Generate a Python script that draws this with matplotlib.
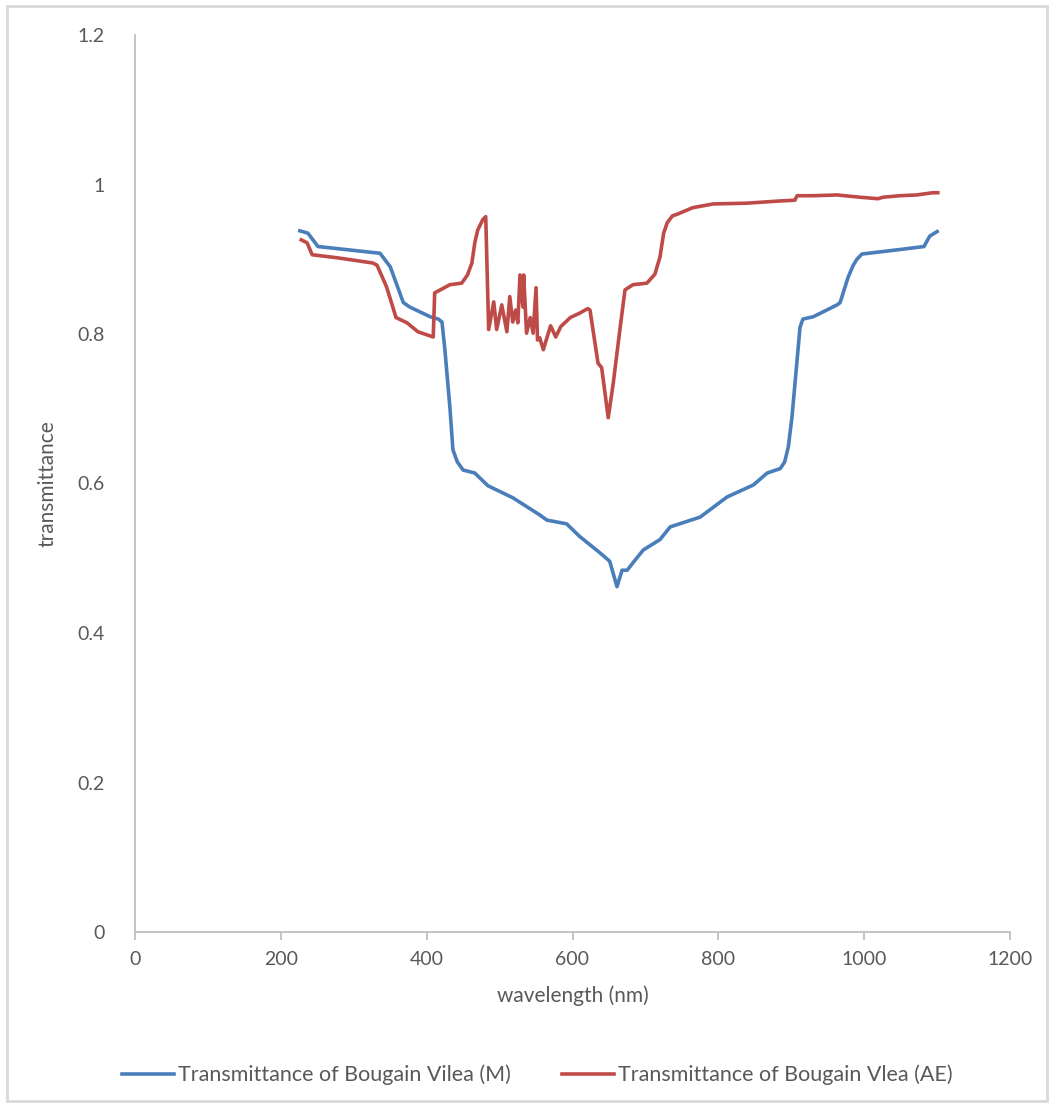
import matplotlib.pyplot as plt
from matplotlib.patches import Rectangle

plt.rcParams['font.family'] = ['Lato', 'DejaVu Sans']

# Transmittance of Bougain Vilea (M)
wl_m = [226, 237, 251, 336, 350, 368, 377, 405, 416, 421, 425, 432, 436, 442,
        450, 466, 484, 518, 555, 565, 592, 610, 638, 651, 661, 668, 675, 683,
        697, 720, 734, 775, 812, 848, 867, 885, 891, 896, 901, 908, 912, 916,
        930, 963, 967, 978, 985, 990, 997, 1049, 1082, 1090, 1100]
tr_m = [0.938, 0.935, 0.917, 0.908, 0.890, 0.842, 0.836, 0.823, 0.820, 0.816,
        0.779, 0.700, 0.645, 0.629, 0.618, 0.614, 0.597, 0.581, 0.558, 0.551,
        0.546, 0.529, 0.507, 0.496, 0.462, 0.484, 0.484, 0.494, 0.511, 0.525,
        0.542, 0.555, 0.582, 0.598, 0.614, 0.620, 0.629, 0.649, 0.689, 0.765,
        0.809, 0.820, 0.823, 0.839, 0.842, 0.876, 0.892, 0.900, 0.907, 0.913,
        0.917, 0.931, 0.937]

# Transmittance of Bougain Vlea (AE)
wl_ae = [228, 236, 243, 277, 326, 332, 345, 358, 373, 388, 409, 411, 432, 448,
         456, 462, 466, 470, 477, 481, 485, 492, 496, 503, 510, 514, 518, 522,
         525, 528, 532, 533, 537, 542, 546, 550, 552, 555, 560, 564, 570, 577,
         584, 597, 610, 621, 624, 635, 640, 649, 656, 665, 672, 683, 702, 713,
         716, 720, 725, 730, 737, 743, 765, 793, 839, 885, 905, 908, 930, 963,
         994, 1019, 1026, 1049, 1072, 1094, 1101]
tr_ae = [0.926, 0.922, 0.906, 0.902, 0.895, 0.892, 0.863, 0.822, 0.815, 0.803,
         0.796, 0.855, 0.866, 0.868, 0.879, 0.895, 0.922, 0.939, 0.953, 0.957,
         0.806, 0.843, 0.806, 0.839, 0.803, 0.850, 0.816, 0.832, 0.815, 0.879,
         0.836, 0.879, 0.801, 0.822, 0.801, 0.862, 0.792, 0.795, 0.779, 0.792,
         0.811, 0.796, 0.810, 0.822, 0.828, 0.834, 0.832, 0.761, 0.755, 0.688,
         0.735, 0.806, 0.859, 0.866, 0.868, 0.880, 0.890, 0.903, 0.935, 0.949,
         0.958, 0.960, 0.969, 0.974, 0.975, 0.978, 0.979, 0.985, 0.985, 0.986,
         0.983, 0.981, 0.983, 0.985, 0.986, 0.989, 0.989]

xticks = [0, 200, 400, 600, 800, 1000, 1200]
yticks = [0, 0.2, 0.4, 0.6, 0.8, 1, 1.2]
ytick_labels = ["0", "0.2", "0.4", "0.6", "0.8", "1", "1.2"]

fig = plt.figure(figsize=(10.54, 11.07), dpi=100)
ax = fig.add_axes([135 / 1054, 1 - 932 / 1107, 875 / 1054, 897 / 1107])

ax.plot(wl_m, tr_m, color="#4a7ebb", lw=2.6, label="Transmittance of Bougain Vilea (M)")
ax.plot(wl_ae, tr_ae, color="#be4b48", lw=2.6, label="Transmittance of Bougain Vlea (AE)")

ax.set_xlim(0, 1200)
ax.set_ylim(0, 1.2)
ax.set_xticks(xticks)
ax.set_yticks(yticks)
ax.set_yticklabels(ytick_labels)

for s in ["top", "right"]:
    ax.spines[s].set_visible(False)
for s in ["left", "bottom"]:
    ax.spines[s].set_color("#bfbfbf")
    ax.spines[s].set_linewidth(1.3)

ax.tick_params(axis="x", colors="#595959", labelsize=14, length=6, width=1.3,
               color="#bfbfbf", pad=8)
ax.tick_params(axis="y", colors="#595959", labelsize=14, length=0, pad=22)

ax.set_xlabel("wavelength (nm)", fontsize=15, color="#595959", labelpad=12)
ax.set_ylabel("transmittance", fontsize=15, color="#595959", labelpad=14)

fig.legend(loc="center", bbox_to_anchor=(0.51, 1 - 1075 / 1107), ncol=2,
           frameon=False, fontsize=15.5, labelcolor="#595959",
           handlelength=2.4, handletextpad=0.2, columnspacing=2.4)

fig.patches.append(Rectangle((7 / 1054, 6 / 1107), 1 - 14 / 1054, 1 - 12 / 1107,
                             transform=fig.transFigure, fill=False,
                             edgecolor="#d9d9d9", lw=2))

fig.savefig("out.png", dpi=100)
